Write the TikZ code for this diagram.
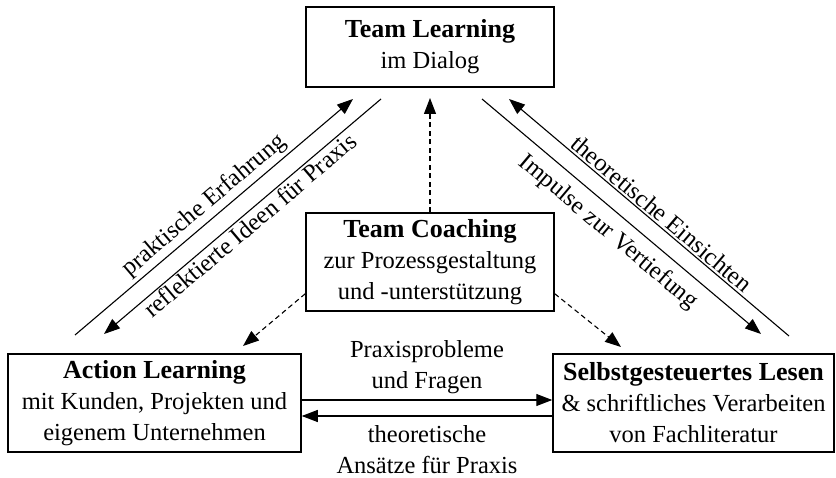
\documentclass[tikz,border=0pt]{standalone}
\usepackage{fontspec}
\setmainfont{Liberation Serif}
\usepackage{tikz}
\usetikzlibrary{arrows.meta}
\newcommand{\boxtitle}[1]{{\fontsize{26}{31}\selectfont\bfseries #1}}
\tikzset{
	box/.style={draw, line width=1.5pt, rectangle, align=center, inner sep=0pt, font=\fontsize{24.5}{31}\selectfont},
	lbl/.style={align=center, inner sep=2pt, font=\fontsize{24.5}{31}\selectfont},
	arr/.style={line width=1.1pt, -{Triangle[length=16pt,width=12pt]}},
	darr/.style={arr, dash pattern=on 5pt off 3.5pt},
}

\begin{document}
\begin{tikzpicture}[x=1pt, y=-1pt]
		%%%%% START %%%%%
		\useasboundingbox (0, 0) rectangle (836, 478);
		
		\node[box, minimum width=248pt, minimum height=80pt] (team) at (430, 47) {\boxtitle{Team Learning}\\im Dialog};
		\node[box, minimum width=248pt, minimum height=98pt] (coach) at (430, 262) {\boxtitle{Team Coaching}\\zur Prozessgestaltung\\und -unterstützung};
		\node[box, minimum width=293pt, minimum height=98pt] (action) at (154.5, 403) {\boxtitle{Action Learning}\\mit Kunden, Projekten und\\eigenem Unternehmen};
		\node[box, minimum width=281pt, minimum height=98pt] (lesen) at (693.5, 403) {\boxtitle{Selbstgesteuertes Lesen}\\\& schriftliches Verarbeiten\\von Fachliteratur};
		
		\coordinate (pe-a) at (75, 335);
		\coordinate (pe-b) at (353, 99);
		\coordinate (ri-a) at (381, 99);
		\coordinate (ri-b) at (104, 334);
		\coordinate (iv-a) at (482, 99);
		\coordinate (iv-b) at (761, 334);
		\coordinate (te-a) at (789, 336);
		\coordinate (te-b) at (509, 99);
		
		\draw[arr] (pe-a) -- node[lbl, sloped, above, inner sep=3pt] (pelbl) {praktische Erfahrung} (pe-b);
		\draw[arr] (ri-a) -- node[lbl, sloped, below] (rilbl) {reflektierte Ideen für Praxis} (ri-b);
		\draw[arr] (iv-a) -- node[lbl, sloped, below, inner sep=9pt] (ivlbl) {Impulse zur Vertiefung} (iv-b);
		\draw[arr] (te-a) -- node[lbl, sloped, above, pos=0.48] (telbl) {theoretische Einsichten} (te-b);
		
		\coordinate (tc-up) at (430, 98);
		\coordinate (tc-l) at (243, 346);
		\coordinate (tc-r) at (621, 347);
		\draw[darr] (coach.north) -- (tc-up);
		\draw[darr] ([yshift=18pt]coach.south west) -- (tc-l);
		\draw[darr] ([yshift=18pt]coach.south east) -- (tc-r);
		
		\draw[arr] ([yshift=3pt]action.east) -- node[lbl, above, inner sep=6pt] (pflbl) {Praxisprobleme\\und Fragen} ([yshift=3pt]lesen.west);
		\draw[arr] ([yshift=-13pt]lesen.west) -- node[lbl, below, inner sep=9pt] (talbl) {theoretische\\Ansätze für Praxis} ([yshift=-13pt]action.east);
		
		%%%%% END %%%%%
\end{tikzpicture}
\end{document}
